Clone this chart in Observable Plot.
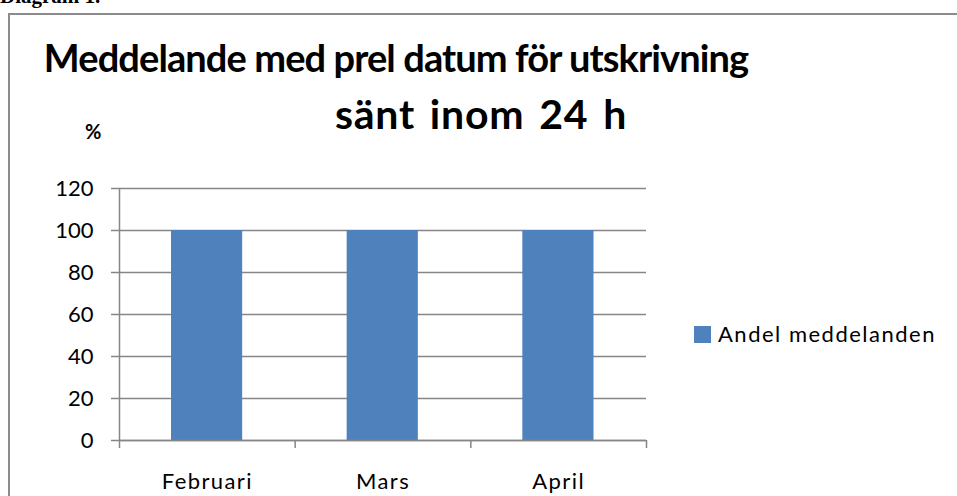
<!DOCTYPE html>
<html>
<head>
<meta charset="utf-8">
<script src="https://cdn.jsdelivr.net/npm/d3@7"></script>
<script src="https://cdn.jsdelivr.net/npm/@observablehq/plot@0.6"></script>
<style>
  html, body { margin: 0; padding: 0; background: #fff; }
  #root { position: relative; width: 957px; height: 496px; overflow: hidden; font-family: Lato, "Open Sans", sans-serif; color: #000; }
  #root svg { position: absolute; left: 0; top: 0; }
  #root svg g[aria-label="text"] text { letter-spacing: 1.4px; }
  .abs { position: absolute; white-space: nowrap; line-height: 1; }
  #frame { position: absolute; left: 8px; top: 13px; width: 980px; height: 520px; border: 2px solid #8c8c8c; box-sizing: border-box; }
  #pre { left: 0px; top: -14px; font-family: "Liberation Serif", serif; font-weight: bold; font-size: 21px; }
  .title { font-weight: bold; transform: translateX(-50%); }
  #t1 { font-size: 38px; letter-spacing: -0.9px; }
  #t2 { font-size: 41px; letter-spacing: 0.8px; word-spacing: 4px; }
  #pct { left: 85px; top: 121px; font-weight: bold; font-size: 20px; }
  #legend { left: 694px; top: 323px; display: flex; align-items: center; font-size: 22px; letter-spacing: 1.5px; }
  #legend .sw { width: 17px; height: 17px; background: #4F81BD; margin-right: 7px; }
</style>
</head>
<body>
<div id="root">
  <div id="frame"></div>
  <div class="abs" id="pre">Diagram 1.</div>
  <div class="abs title" id="t1" style="left:396px; top:38px;">Meddelande med prel datum för utskrivning</div>
  <div class="abs title" id="t2" style="left:481px; top:93px;">sänt inom 24 h</div>
  <div class="abs" id="pct">%</div>
  <div class="abs" id="legend"><div class="sw"></div><span id="legtext"></span></div>
</div>
<script>
const categories = ["Februari", "Mars", "April"];
const values = [100, 100, 100];
const yTicks = [0, 20, 40, 60, 80, 100, 120];
const seriesName = "Andel meddelanden";

const data = categories.map((c, i) => ({category: c, value: values[i], i}));
const gray = "#868686";

const chart = Plot.plot({
  width: 957,
  height: 496,
  marginLeft: 119,
  marginRight: 311,
  marginTop: 188,
  marginBottom: 56,
  style: {fontFamily: "Lato, 'Open Sans', sans-serif", fontSize: "22px", color: "#000", background: "transparent", overflow: "visible"},
  x: {type: "linear", domain: [0, categories.length], axis: null},
  y: {domain: [0, 120], axis: null},
  marks: [
    Plot.ruleY(yTicks, {y: d => d, stroke: gray, strokeWidth: 1.5}),
    Plot.ruleX([0], {y1: 0, y2: 120, stroke: gray, strokeWidth: 1.5}),
    Plot.rectY(data, {x1: d => d.i, x2: d => d.i + 1, y1: 0, y2: d => d.value, fill: "#4F81BD", insetLeft: 52, insetRight: 52.5}),
    Plot.ruleY([0], {stroke: gray, strokeWidth: 1.5}),
    Plot.axisY({ticks: yTicks, tickSize: 8, tickPadding: 18, stroke: gray, strokeWidth: 1.5, fill: "#000", fontSize: 22, tickFormat: d => String(d)}),
    Plot.axisX({ticks: d3.range(categories.length + 1), tickSize: 8, stroke: gray, strokeWidth: 1.5, tickFormat: () => ""}),
    Plot.text(data, {x: d => d.i + 0.5, y: 0, text: d => d.category, dy: 41, fill: "#000", fontSize: 22})
  ]
});
document.getElementById("root").insertBefore(chart, document.getElementById("frame").nextSibling);
document.getElementById("legtext").textContent = seriesName;
</script>
</body>
</html>
